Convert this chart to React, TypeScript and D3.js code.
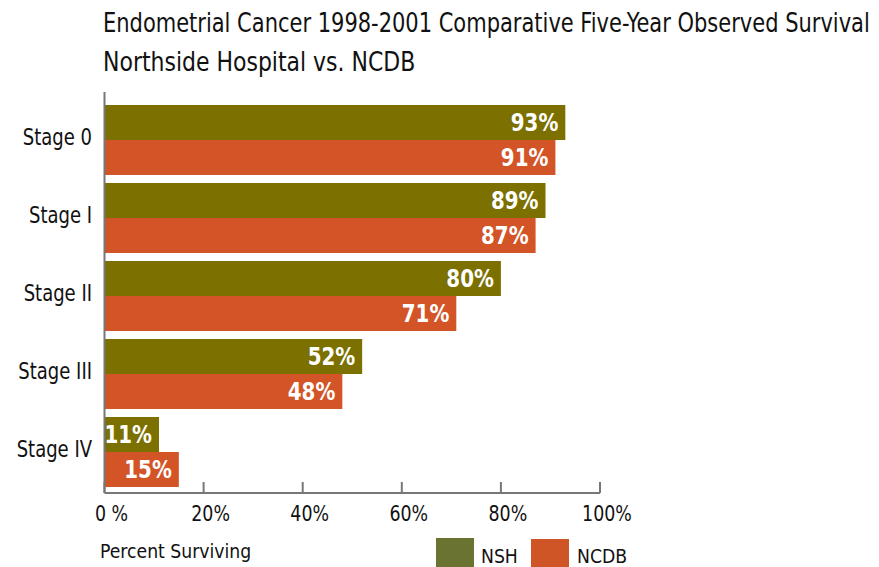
import * as d3 from "d3";

const stages = ["Stage 0", "Stage I", "Stage II", "Stage III", "Stage IV"];
const nsh = [93, 89, 80, 52, 11];
const ncdb = [91, 87, 71, 48, 15];
const ticks = [0, 20, 40, 60, 80, 100];
const tickLabels = ["0 %", "20%", "40%", "60%", "80%", "100%"];

const W = 879;
const H = 567;
const FONT = "'DejaVu Sans Condensed', 'Liberation Sans Narrow', sans-serif";
const GREEN = "#7b7000";
const ORANGE = "#d35426";

// condensed text: squeeze horizontally around the anchor point
function Txt(props: { x: number; y: number; size: number; sx?: number; anchor?: string; bold?: boolean; fill?: string; children: any }) {
  const { x, y, size, sx = 0.85, anchor = "start", bold, fill = "#111" } = props;
  return (
    <text
      transform={`translate(${x},${y}) scale(${sx},1)`}
      fontSize={size}
      fontWeight={bold ? "bold" : "normal"}
      fill={fill}
      textAnchor={anchor}
    >
      {props.children}
    </text>
  );
}

export default function App() {
  const x = d3.scaleLinear().domain([0, 100]).range([104.5, 600]);
  const y = d3.scaleBand().domain(stages).range([101, 491]).paddingInner(0.1).paddingOuter(0.05);
  const half = 35;

  return (
    <svg width={W} height={H} style={{ position: "absolute", left: 0, top: 0, background: "#fff" }} fontFamily={FONT}>
      <Txt x={103} y={32} size={26} sx={0.898}>
        Endometrial Cancer 1998-2001 Comparative Five-Year Observed Survival
      </Txt>
      <Txt x={103} y={71} size={26} sx={0.94}>
        Northside Hospital vs. NCDB
      </Txt>

      {stages.map((s, i) => {
        const cy = (y(s) as number) + y.bandwidth() / 2;
        return (
          <g key={s}>
            <rect x={x(0)} y={cy - half} width={x(nsh[i]) - x(0)} height={half} fill={GREEN} />
            <rect x={x(0)} y={cy} width={x(ncdb[i]) - x(0)} height={half} fill={ORANGE} />
            <Txt x={x(nsh[i]) - 7} y={cy - half / 2 + 8.5} size={24} sx={0.92} bold fill="#fff" anchor="end">
              {nsh[i]}%
            </Txt>
            <Txt x={x(ncdb[i]) - 7} y={cy + half / 2 + 8.5} size={24} sx={0.92} bold fill="#fff" anchor="end">
              {ncdb[i]}%
            </Txt>
            <Txt x={92} y={cy + 5} size={23} sx={0.87} anchor="end">
              {s}
            </Txt>
          </g>
        );
      })}

      <line x1={x(0)} x2={x(0)} y1={92} y2={493} stroke="#777" strokeWidth={2} />
      <line x1={x(0)} x2={x(100)} y1={493} y2={493} stroke="#777" strokeWidth={2} />
      {ticks.map((t, i) => (
        <g key={t}>
          <line x1={x(t)} x2={x(t)} y1={482} y2={493} stroke="#777" strokeWidth={2} />
          <Txt x={x(t) + 7} y={521} size={22} sx={0.88} anchor="middle">
            {tickLabels[i]}
          </Txt>
        </g>
      ))}

      <Txt x={100} y={558} size={20} sx={0.96}>
        Percent Surviving
      </Txt>
      <rect x={436} y={538} width={38} height={29} fill="#6a7332" />
      <Txt x={481} y={563} size={20} sx={0.96}>NSH</Txt>
      <rect x={531} y={539} width={38} height={28} fill="#cf5426" />
      <Txt x={577} y={563} size={20} sx={0.96}>NCDB</Txt>
    </svg>
  );
}
